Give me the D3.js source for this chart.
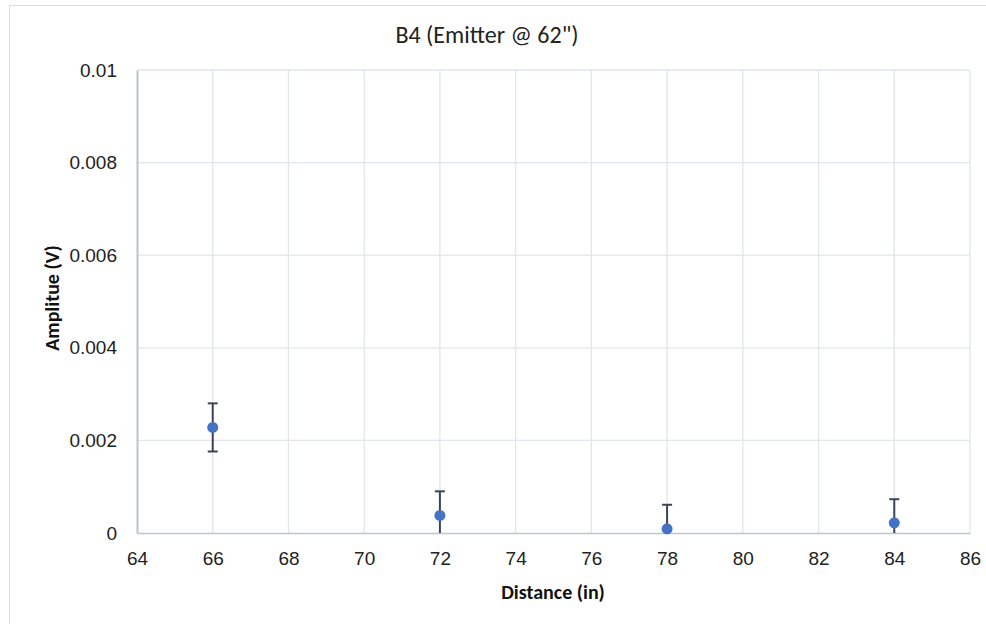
<!DOCTYPE html>
<html><head><meta charset="utf-8">
<script src="https://cdn.jsdelivr.net/npm/d3@7"></script>
<style>
body{margin:0;background:#fff;}
svg{display:block;font-family:Carlito,Calibri,"Open Sans","Liberation Sans",sans-serif;}
</style></head>
<body><svg id="c" width="986" height="624"></svg>
<script>
const title = "B4 (Emitter @ 62\")";
const xLabel = "Distance (in)";
const yLabel = "Amplitue (V)";
const distances = [66, 72, 78, 84];
const amplitudes = [0.00228, 0.00038, 0.00009, 0.00022];
const errors = [0.00052, 0.00052, 0.00052, 0.00051];
const xTicks = [64,66,68,70,72,74,76,78,80,82,84,86];
const yTicks = [0,0.002,0.004,0.006,0.008,0.01];

const svg = d3.select("#c");
const L=137,R=970,T=70,B=533;
const x = d3.scaleLinear().domain([64,86]).range([L,R]);
const y = d3.scaleLinear().domain([0,0.01]).range([B,T]);

// chart border
svg.append("rect").attr("x",9.5).attr("y",5.5).attr("width",990).attr("height",630)
  .attr("fill","none").attr("stroke","#d9dde3").attr("stroke-width",1);

svg.append("defs").append("clipPath").attr("id","clip")
  .append("rect").attr("x",L).attr("y",T).attr("width",R-L).attr("height",B-T);

// gridlines
svg.append("g").selectAll("line").data(xTicks.slice(1)).join("line")
  .attr("x1",d=>x(d)).attr("x2",d=>x(d)).attr("y1",T).attr("y2",B)
  .attr("stroke","#e1e5ec").attr("stroke-width",1.3);
svg.append("g").selectAll("line").data(yTicks.slice(1)).join("line")
  .attr("x1",L).attr("x2",R).attr("y1",d=>y(d)).attr("y2",d=>y(d))
  .attr("stroke","#e1e5ec").attr("stroke-width",1.3);

// axes
const xa = svg.append("g").attr("transform",`translate(0,${B})`)
  .call(d3.axisBottom(x).tickValues(xTicks).tickSize(0).tickPadding(19).tickFormat(d3.format("d")));
xa.select(".domain").attr("stroke","#bcc5d2").attr("stroke-width",1.5);
xa.selectAll("text").attr("font-size",19).attr("fill","#222");
const ya = svg.append("g").attr("transform",`translate(${L},0)`)
  .call(d3.axisLeft(y).tickValues(yTicks).tickSize(0).tickPadding(20).tickFormat(d=>d===0?"0":String(+d.toFixed(3))));
ya.select(".domain").attr("stroke","#b9c4d3").attr("stroke-width",2);
ya.selectAll("text").attr("font-size",19).attr("fill","#222");

// error bars
const eg = svg.append("g").attr("clip-path","url(#clip)");
distances.forEach((d,i)=>{
  const yt=y(amplitudes[i]+errors[i]), yb=y(amplitudes[i]-errors[i]);
  eg.append("line").attr("x1",x(d)).attr("x2",x(d)).attr("y1",yt).attr("y2",yb)
    .attr("stroke","#3b4556").attr("stroke-width",2);
  [yt,yb].forEach(v=>eg.append("line").attr("x1",x(d)-5).attr("x2",x(d)+5).attr("y1",v).attr("y2",v)
    .attr("stroke","#3b4556").attr("stroke-width",2));
});

// points
svg.append("g").selectAll("circle").data(distances).join("circle")
  .attr("cx",d=>x(d)).attr("cy",(d,i)=>y(amplitudes[i])).attr("r",5.5)
  .attr("fill","#4472c4");

// titles
svg.append("text").attr("x",487).attr("y",43).attr("text-anchor","middle")
  .attr("font-size",24).attr("fill","#222").text(title);
svg.append("text").attr("x",553).attr("y",599).attr("text-anchor","middle")
  .attr("font-size",20).attr("font-weight","bold").attr("fill","#111").text(xLabel);
svg.append("text").attr("transform","translate(59,298) rotate(-90)").attr("text-anchor","middle")
  .attr("font-size",20).attr("font-weight","bold").attr("fill","#111").text(yLabel);
</script></body></html>
